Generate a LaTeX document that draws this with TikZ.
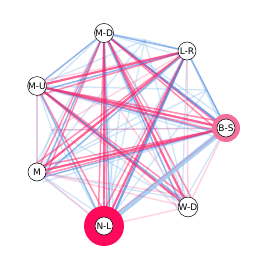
\documentclass[tikz,border=0pt]{standalone}
\usepackage{fontspec}
\setmainfont{DejaVu Sans}
\usetikzlibrary{calc}

\definecolor{edgeblue}{HTML}{4A84E0}
\definecolor{edgesky}{HTML}{9CC8F0}
\definecolor{edgepink}{HTML}{FF1F66}
\definecolor{nlred}{HTML}{FF0A5A}
\definecolor{bsring}{HTML}{F4709A}

\tikzset{
  bl/.style={draw=edgeblue, opacity=0.6, line width=1.5pt},
  blw/.style={draw=edgeblue, opacity=0.75, line width=2.2pt},
  bf/.style={draw=edgesky, opacity=0.45, line width=1.4pt},
  skyw/.style={draw=edgesky, opacity=0.85, line width=5pt},
  pk/.style={draw=edgepink, opacity=0.5, line width=1.5pt},
  pkw/.style={draw=edgepink, opacity=0.7, line width=2.2pt},
  pf/.style={draw=edgepink, opacity=0.2, line width=1.4pt},
  pu/.style={draw=edgeblue!50!edgepink, opacity=0.3, line width=1.6pt},
  hub/.style={circle, draw=black, line width=0.5pt, fill=white, minimum size=18pt,
    inner sep=0pt, font=\fontsize{9}{9}\selectfont}
}

\begin{document}
\begin{tikzpicture}[x=1pt, y=-1pt]
\useasboundingbox (0,0) rectangle (268,268);

% node places
\coordinate (md) at (104,33);
\coordinate (lr) at (187,51);
\coordinate (mu) at (37,86);
\coordinate (bs) at (226,128);
\coordinate (m) at (37,172);
\coordinate (wd) at (188,207);
\coordinate (nl) at (104,226);
% loose ends of the faint edges
\coordinate (h1) at (145,40);
\coordinate (h2) at (207,90);
\coordinate (h3) at (52,130);
\coordinate (h4) at (150,110);
\coordinate (h5) at (120,110);

% faint edges to loose ends
\foreach \a/\b in {md/h1,lr/h1,mu/h1,m/h1,nl/h1,wd/h1,lr/h2,bs/h2,mu/h2,m/h2,nl/h2,
    mu/h3,m/h3,nl/h3,wd/h3,bs/h3,md/h4,m/h4,wd/h4,mu/h4,nl/h5,lr/h5,bs/h5}
  \draw[bf] (\a) -- (\b);
\foreach \a/\b in {md/h4,lr/h3,bs/h3,wd/h5,mu/h5}
  \draw[pf] (\a) -- (\b);

% edges between the nodes, fanned at the far end
\foreach \a/\b/\s/\dx/\dy in {
  md/lr/bl/0/0, md/lr/bf/-3/6,
  md/mu/bl/0/0, md/mu/bf/5/5,
  md/bs/blw/0/0, md/bs/pk/-6/4, md/bs/bf/4/-6, md/bs/pk/-8/-4,
  md/m/pk/0/0, md/m/bl/6/0, md/m/bf/-2/-6, md/m/pk/8/6,
  md/wd/pkw/0/0, md/wd/bl/-6/0, md/wd/pk/6/-4, md/wd/bf/-10/4,
  md/nl/pkw/0/0, md/nl/bl/6/-4, md/nl/pk/-6/-2, md/nl/bf/10/-4, md/nl/pk/3/-8,
  lr/mu/pkw/0/0, lr/mu/bl/0/6, lr/mu/pf/4/-5, lr/mu/pk/0/10,
  lr/bs/bl/0/0, lr/bs/bf/-6/-6,
  lr/m/pkw/0/0, lr/m/bl/4/6, lr/m/pk/-4/-6, lr/m/bf/0/10,
  lr/wd/pf/0/0, lr/wd/bf/-6/-4,
  lr/nl/pkw/0/0, lr/nl/blw/6/-4, lr/nl/pk/-6/-4, lr/nl/bf/-10/-8,
  mu/bs/pkw/0/0, mu/bs/bl/-3/6, mu/bs/pk/-3/-6, mu/bs/bf/-6/10, mu/bs/pk/-8/3,
  mu/m/pu/0/0,
  mu/wd/pkw/0/0, mu/wd/bl/-4/-6, mu/wd/pf/-6/4, mu/wd/pk/-2/-10,
  mu/nl/bl/0/0, mu/nl/pk/6/-3, mu/nl/bf/-4/-8,
  bs/m/pkw/0/0, bs/m/bl/3/6, bs/m/pk/4/-6, bs/m/bf/6/10, bs/m/pk/8/2,
  bs/wd/pf/0/0, bs/wd/bf/-6/-2,
  bs/nl/skyw/0/0, bs/nl/pf/6/-8,
  m/wd/pf/0/0, m/wd/bf/-6/-8, m/wd/pf/-8/-12,
  m/nl/pu/0/0, m/nl/bf/-2/-10,
  wd/nl/pf/0/0}
  \draw[\s] (\a) -- ($(\b)+(\dx,\dy)$);

% rings
\fill[nlred] (nl) circle (20);
\fill[bsring] (bs) circle (14);

% nodes
\node[hub] (nMD) at (md) {M-D};
\node[hub] (nLR) at (lr) {L-R};
\node[hub] (nMU) at (mu) {M-U};
\node[hub] (nBS) at (bs) {B-S};
\node[hub] (nM) at (m) {M};
\node[hub] (nWD) at (wd) {W-D};
\node[hub] (nNL) at (nl) {N-L};
\end{tikzpicture}
\end{document}
